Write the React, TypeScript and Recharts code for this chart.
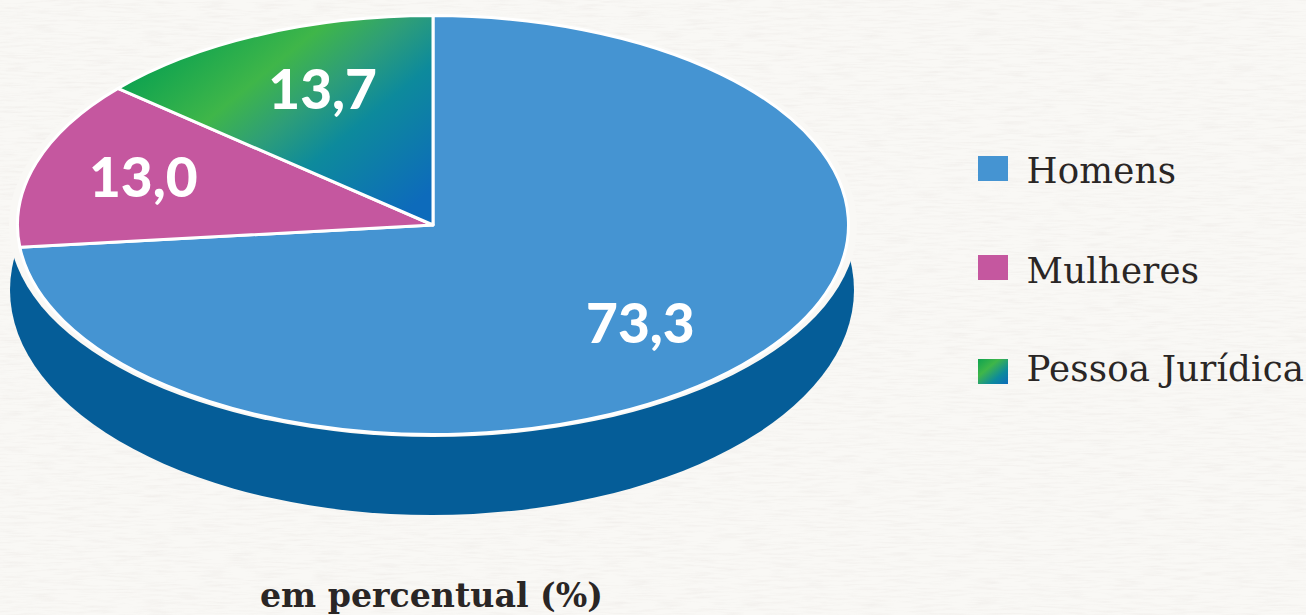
import { PieChart, Pie, Legend } from 'recharts';

const categories = ['Homens', 'Mulheres', 'Pessoa Jurídica'];
const percentages = [73.3, 13.0, 13.7];
const valueLabels = ['73,3', '13,0', '13,7'];
const sliceFills = ['#4594d2', '#c5579f', 'url(#pjGradient)'];
const legendFills = ['#4594d2', '#c5579f', 'url(#pjSwatch)'];

const WIDTH = 1306;
const HEIGHT = 615;
const PAPER = '#f9f8f5';
const INK = '#2a2625';

const sliceData = categories.map((name, i) => ({
  name,
  value: percentages[i],
  fill: sliceFills[i],
  label: valueLabels[i],
}));
const wholeDisc = [{ name: 'disc', value: 100 }];

// recharts only draws circles, so squash the sector it hands us into an ellipse
const ellipseShape = (ratio: number) => (props: any) => {
  const { cx, cy, outerRadius: rx, startAngle, endAngle, fill, stroke, strokeWidth } = props;
  const ry = rx * ratio;
  const at = (deg: number) => {
    const r = (deg * Math.PI) / 180;
    return `${cx + rx * Math.cos(r)} ${cy - ry * Math.sin(r)}`;
  };
  const span = Math.abs(endAngle - startAngle);
  const d =
    span >= 359.9
      ? `M ${cx - rx} ${cy} A ${rx} ${ry} 0 1 1 ${cx + rx} ${cy} A ${rx} ${ry} 0 1 1 ${cx - rx} ${cy} Z`
      : `M ${cx} ${cy} L ${at(startAngle)} A ${rx} ${ry} 0 ${span > 180 ? 1 : 0} 1 ${at(endAngle)} Z`;
  return <path d={d} fill={fill} stroke={stroke} strokeWidth={strokeWidth} strokeLinejoin="round" />;
};

const TOP_RATIO = 0.504;
// hand nudges so the numbers sit where the original has them
const labelNudge = [
  [-9, 2],
  [-12, -2],
  [11, -1],
];

const renderValue = (props: any) => {
  const { cx, cy, outerRadius, midAngle, index } = props;
  const r = (midAngle * Math.PI) / 180;
  const x = cx + outerRadius * 0.7 * Math.cos(r) + labelNudge[index][0];
  const y = cy - outerRadius * TOP_RATIO * 0.7 * Math.sin(r) + labelNudge[index][1];
  return (
    <text x={x} y={y} dy={18} textAnchor="middle" fill="#fff" fontFamily="Lato" fontWeight={900} fontSize={55}>
      {valueLabels[index]}
    </text>
  );
};

const swatchTops = [6, 105, 209];
const textBaselines = [33, 133, 231];

const LegendRows = () => (
  <svg width={328} height={250} style={{ display: 'block' }}>
    <defs>
      <linearGradient id="pjSwatch" x1="0" y1="0" x2="1" y2="1">
        <stop offset="0" stopColor="#0fa350" />
        <stop offset="0.35" stopColor="#3fb649" />
        <stop offset="0.7" stopColor="#0d8a9c" />
        <stop offset="1" stopColor="#0d6bbb" />
      </linearGradient>
    </defs>
    {categories.map((name, i) => (
      <g key={name}>
        <rect x={0} y={swatchTops[i]} width={30} height={25} fill={legendFills[i]} />
        <text x={48.5} y={textBaselines[i]} fill={INK} fontFamily="DejaVu Serif" fontSize={35.6} letterSpacing={0.2}>
          {name}
        </text>
      </g>
    ))}
  </svg>
);

export default function App() {
  return (
    <div style={{ position: 'absolute', left: 0, top: 0, width: WIDTH, height: HEIGHT, background: PAPER, overflow: 'hidden' }}>
      <svg width={WIDTH} height={HEIGHT} style={{ position: 'absolute', left: 0, top: 0 }}>
        <filter id="paper" x="0" y="0" width="100%" height="100%">
          <feTurbulence type="fractalNoise" baseFrequency="0.035 0.45" numOctaves={3} seed={4} />
          <feColorMatrix values="0 0 0 0 0.55  0 0 0 0 0.48  0 0 0 0 0.46  0 0 0 0.9 -0.38" />
        </filter>
        <rect width={WIDTH} height={HEIGHT} filter="url(#paper)" opacity={0.28} />
      </svg>
      <PieChart width={WIDTH} height={HEIGHT} style={{ position: 'absolute', left: 0, top: 0 }} margin={{ top: 0, right: 0, bottom: 0, left: 0 }}>
        <defs>
          <linearGradient id="pjGradient" gradientUnits="userSpaceOnUse" x1={120} y1={88} x2={296} y2={302}>
            <stop offset="0" stopColor="#0fa350" />
            <stop offset="0.29" stopColor="#3fb649" />
            <stop offset="0.47" stopColor="#2e9e78" />
            <stop offset="0.65" stopColor="#0d8a9c" />
            <stop offset="1" stopColor="#0d6bbb" />
          </linearGradient>
        </defs>
        {/* dark side of the disc */}
        <Pie
          data={wholeDisc}
          dataKey="value"
          cx={432}
          cy={290}
          outerRadius={422}
          startAngle={90}
          endAngle={-270}
          fill="#055d98"
          stroke="none"
          legendType="none"
          shape={ellipseShape(225 / 422)}
          isAnimationActive={false}
        />
        {/* pale rim between top and side */}
        <Pie
          data={wholeDisc}
          dataKey="value"
          cx={433}
          cy={225}
          outerRadius={424}
          startAngle={90}
          endAngle={-270}
          fill={PAPER}
          stroke="none"
          legendType="none"
          shape={ellipseShape(0.5)}
          isAnimationActive={false}
        />
        <Pie
          data={sliceData}
          dataKey="value"
          nameKey="name"
          cx={433}
          cy={225}
          outerRadius={415.5}
          startAngle={90}
          endAngle={-270}
          stroke="#fff"
          strokeWidth={3}
          shape={ellipseShape(TOP_RATIO)}
          label={renderValue}
          labelLine={false}
          isAnimationActive={false}
        />
        <Legend
          content={<LegendRows />}
          wrapperStyle={{ position: 'absolute', left: 978, top: 150, bottom: 'auto', width: 328 }}
        />
        <text x={431.5} y={607} textAnchor="middle" fill={INK} fontFamily="DejaVu Serif" fontWeight={700} fontSize={33.2}>
          em percentual (%)
        </text>
      </PieChart>
    </div>
  );
}
